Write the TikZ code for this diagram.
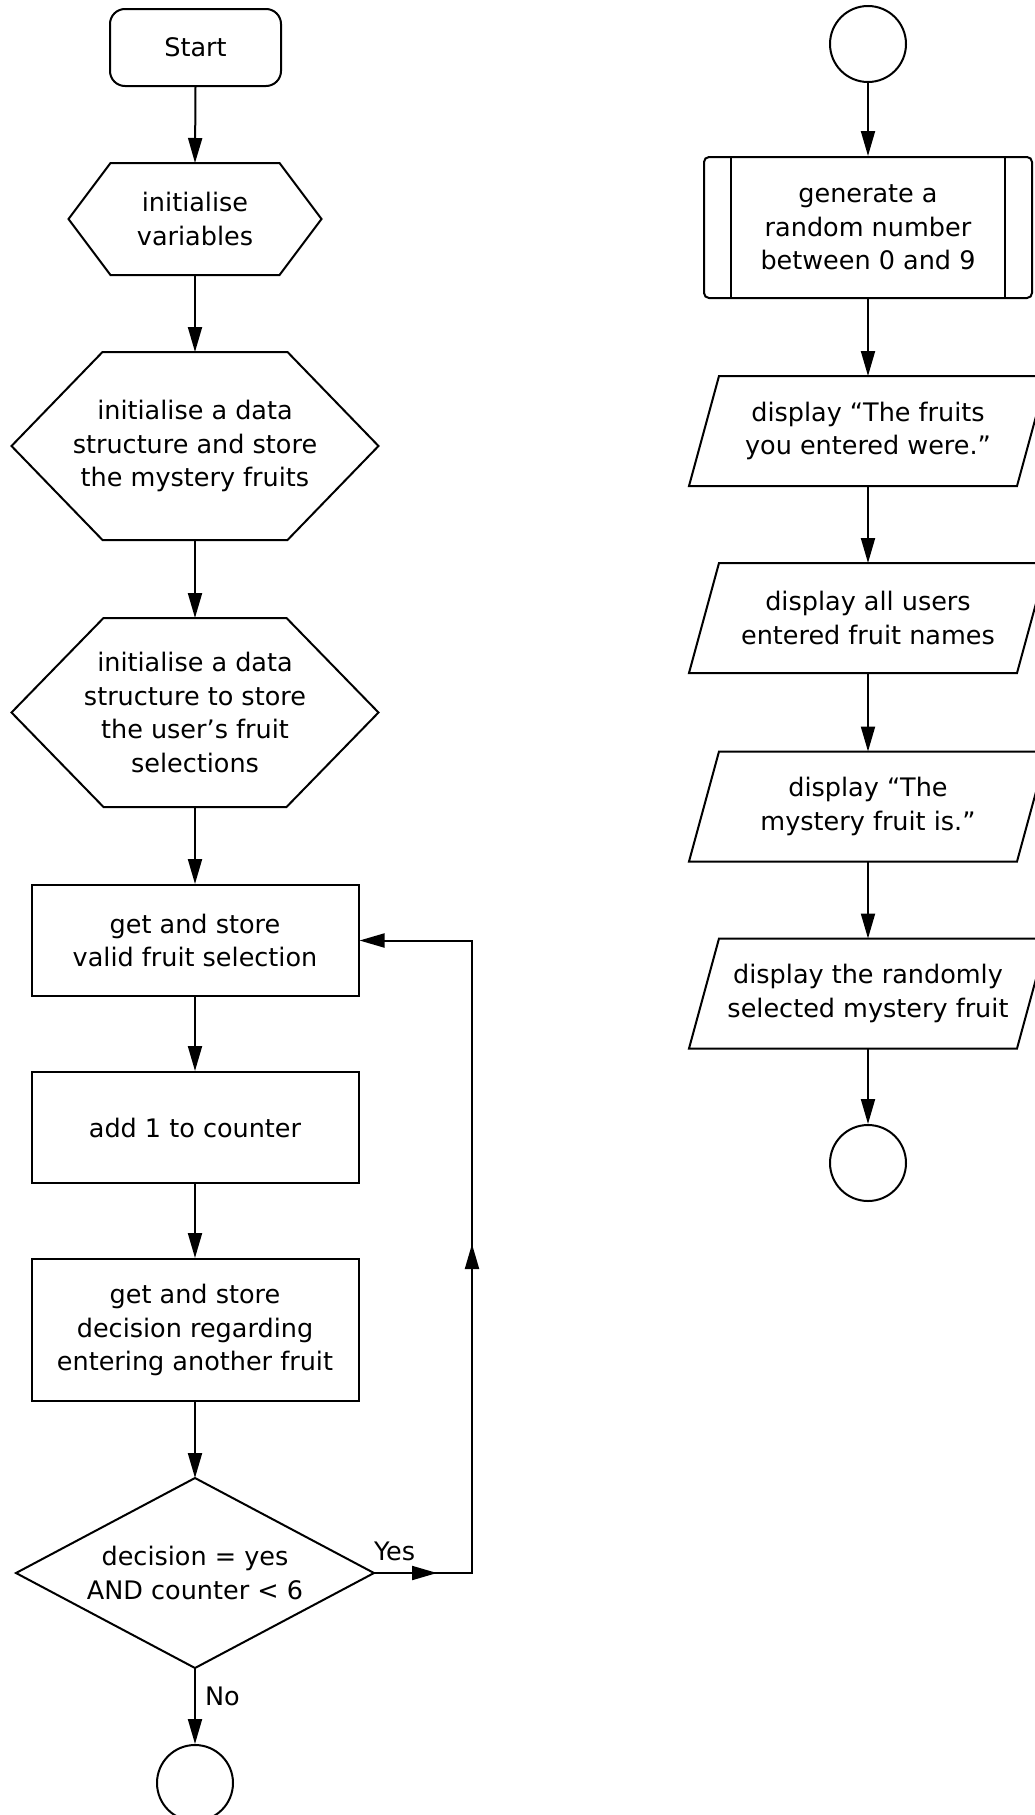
\documentclass[tikz,border=0pt]{standalone}
\usepackage{fontspec}
\setmainfont{DejaVu Sans}
\usetikzlibrary{arrows.meta,calc}
\newcommand\hexoutline[4]{% name, half top width, half height, inset
  \draw[outline] ($(#1.center)+(-#2,-#3)$) -- ($(#1.center)+(#2,-#3)$) -- ($(#1.center)+(#2+#4,0)$) -- ($(#1.center)+(#2,#3)$) -- ($(#1.center)+(-#2,#3)$) -- ($(#1.center)+(-#2-#4,0)$) -- cycle;}
\newcommand\paraoutline[1]{%
  \draw[outline] ($(#1.center)+(-149,-55)$) -- ($(#1.center)+(179,-55)$) -- ($(#1.center)+(149,55)$) -- ($(#1.center)+(-179,55)$) -- cycle;}
\begin{document}
\begin{tikzpicture}[x=1pt,y=-1pt,
  txt/.style={font=\fontsize{25.5pt}{33.5pt}\selectfont, align=center, inner sep=0pt, line width=2pt},
  boxed/.style={txt, draw, minimum width=327pt},
  ghost/.style={txt},
  outline/.style={line width=2pt, line join=miter},
  flowline/.style={line width=2pt, -{Triangle[length=25pt,width=14pt]}},
  endpoint/.style={txt, draw, circle, minimum size=76pt}]
\useasboundingbox (0,0) rectangle (1035,1815);

% ---------------- left column ----------------
\node[txt, draw, rounded corners=15pt, minimum width=171pt, minimum height=77pt] (start) at (195.5,47.5) {Start};

\node[ghost, minimum width=169pt, minimum height=112pt] (h1) at (195,219) {initialise\\variables};
\hexoutline{h1}{84.5}{56}{42}

\node[ghost, minimum width=185pt, minimum height=188pt] (h2) at (195,446) {initialise a data\\structure and store\\the mystery fruits};
\hexoutline{h2}{92.5}{94}{91}

\node[ghost, minimum width=183pt, minimum height=189pt] (h3) at (195,712.5) {initialise a data\\structure to store\\the user’s fruit\\selections};
\hexoutline{h3}{91.5}{94.5}{92}

\node[boxed, minimum height=111pt] (r1) at (195,940.5) {get and store\\valid fruit selection};
\node[boxed, minimum height=111pt] (r2) at (195,1127.5) {add 1 to counter};
\node[boxed, minimum height=142pt] (r3) at (195,1330) {get and store\\decision regarding\\entering another fruit};

\node[ghost, minimum width=358pt, minimum height=190pt] (d) at (195,1573) {decision = yes\\AND counter < 6};
\draw[outline] ($(d.center)+(0,-95)$) -- ($(d.center)+(179,0)$) -- ($(d.center)+(0,95)$) -- ($(d.center)+(-179,0)$) -- cycle;
\coordinate (dn) at ($(d.center)+(0,-95)$);
\coordinate (de) at ($(d.center)+(179,0)$);
\coordinate (ds) at ($(d.center)+(0,95)$);

\node[endpoint] (endL) at (195,1783) {};

\draw[flowline] (start.south) -- ($(h1.center)+(0,-56)$);
\draw[flowline] ($(h1.center)+(0,56)$) -- ($(h2.center)+(0,-94)$);
\draw[flowline] ($(h2.center)+(0,94)$) -- ($(h3.center)+(0,-94.5)$);
\draw[flowline] ($(h3.center)+(0,94.5)$) -- (r1.north);
\draw[flowline] (r1.south) -- (r2.north);
\draw[flowline] (r2.south) -- (r3.north);
\draw[flowline] (r3.south) -- (dn);
\draw[flowline] (ds) -- (endL.north);
\node[txt, anchor=base west] (nolbl) at (204,1705) {No};

% loop back
\coordinate (ya) at (437,1573);
\coordinate (yb) at (472,1573);
\coordinate (yu) at (472,1244);
\coordinate (yt) at (472,940.5);
\draw[flowline] (de) -- (yb) -- (yt) -- (r1.east);
\draw[flowline] (de) -- (ya);
\draw[flowline] (yb) -- (yu);
\node[txt, anchor=base west] (yeslbl) at (373,1560) {Yes};

% ---------------- right column ----------------
\node[endpoint] (c1) at (868,44) {};

\node[txt, draw, rounded corners=5pt, minimum width=328pt, minimum height=141pt] (proc) at (868,227.5) {generate a\\random number\\between 0 and 9};
\draw[outline] ($(proc.north west)+(28,0)$) -- ($(proc.south west)+(28,0)$);
\draw[outline] ($(proc.north east)+(-28,0)$) -- ($(proc.south east)+(-28,0)$);

\node[ghost, minimum width=328pt, minimum height=110pt] (p1) at (868,431) {display “The fruits\\you entered were.”};
\node[ghost, minimum width=328pt, minimum height=110pt] (p2) at (868,618) {display all users\\entered fruit names};
\node[ghost, minimum width=328pt, minimum height=110pt] (p3) at (868,806.5) {display “The\\mystery fruit is.”};
\node[ghost, minimum width=328pt, minimum height=110pt] (p4) at (868,993.5) {display the randomly\\selected mystery fruit};
\paraoutline{p1}
\paraoutline{p2}
\paraoutline{p3}
\paraoutline{p4}

\node[endpoint] (c2) at (868,1163) {};

\draw[flowline] (c1.south) -- (proc.north);
\draw[flowline] (proc.south) -- ($(p1.center)+(0,-55)$);
\draw[flowline] ($(p1.center)+(0,55)$) -- ($(p2.center)+(0,-55)$);
\draw[flowline] ($(p2.center)+(0,55)$) -- ($(p3.center)+(0,-55)$);
\draw[flowline] ($(p3.center)+(0,55)$) -- ($(p4.center)+(0,-55)$);
\draw[flowline] ($(p4.center)+(0,55)$) -- (c2.north);
\end{tikzpicture}
\end{document}
